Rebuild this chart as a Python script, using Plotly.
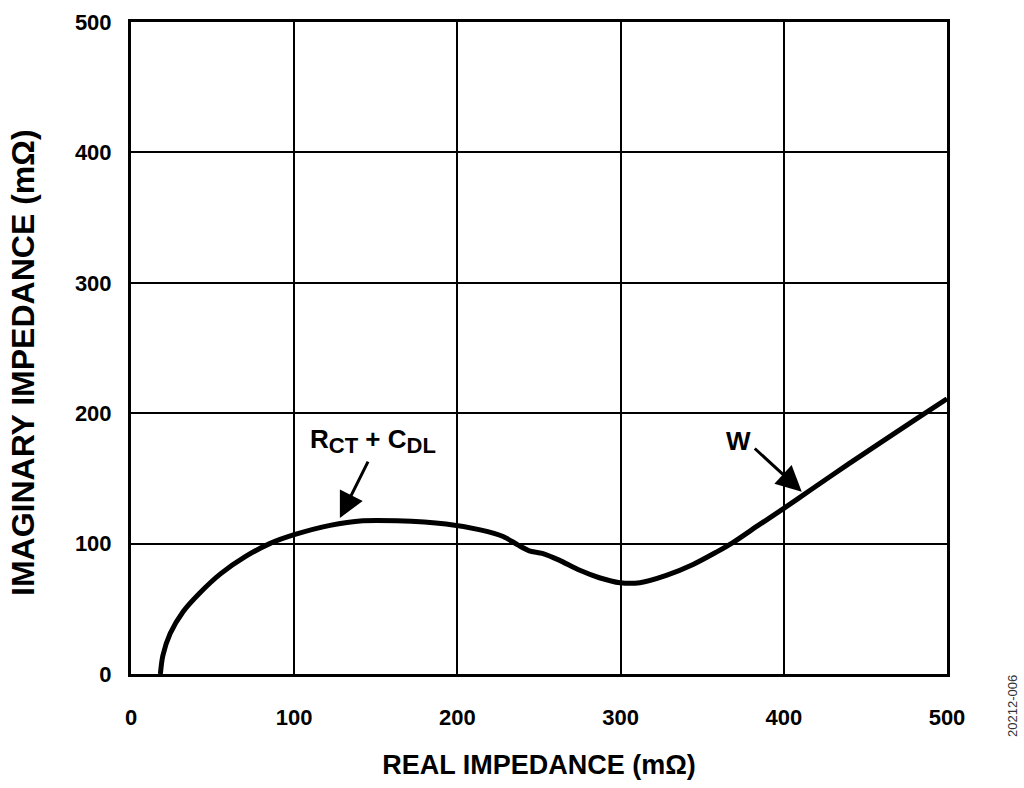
import plotly.graph_objects as go

# Nyquist curve (mOhm)
real_mohm = [18, 19.5, 24, 32, 42, 55, 70, 85, 100.5, 122, 142, 163, 193, 214,
             228, 237, 244, 252, 262, 275, 287, 299.6, 311.8, 328, 344.4, 358.7,
             368.8, 385, 400, 415.7, 440.2, 481, 500]
imag_mohm = [0, 14, 31, 48, 62, 77, 90, 100, 107, 114, 117.5, 117.5, 115, 110.5,
             105.5, 99, 94.5, 92.5, 87.5, 79.5, 73.8, 70, 70, 75.6, 84, 93.5,
             100.8, 114.5, 127, 140.5, 161.5, 195.5, 211]

x_ticks = [0, 100, 200, 300, 400, 500]
y_ticks = [0, 100, 200, 300, 400, 500]

FONT = "Arial, Liberation Sans, sans-serif"
W_PX, H_PX = 1024, 788
MARGIN = dict(l=131, r=77, t=22, b=114)
PLOT_W = W_PX - MARGIN["l"] - MARGIN["r"]
PLOT_H = H_PX - MARGIN["t"] - MARGIN["b"]

fig = go.Figure()
fig.add_trace(go.Scatter(x=real_mohm, y=imag_mohm, mode="lines",
                         line=dict(color="black", width=5, shape="spline", smoothing=0.8),
                         showlegend=False, hoverinfo="skip"))

sub = '<sub><span style="font-size:22px">{}</span></sub>'
# curve labels
fig.add_annotation(x=148, y=178.7, xref="x", yref="y", showarrow=False,
                   text="<b>R" + sub.format("CT") + " + C" + sub.format("DL") + "</b>",
                   font=dict(family=FONT, size=26, color="black"))
fig.add_annotation(x=372, y=178.7, xref="x", yref="y", showarrow=False,
                   text="<b>W</b>", font=dict(family=FONT, size=26, color="black"))
# arrows (tip at x/y, tail at ax/ay)
for tip, tail in [((128, 119.6), (145.7, 164)), ((411, 139.8), (381.3, 174))]:
    fig.add_annotation(x=tip[0], y=tip[1], ax=tail[0], ay=tail[1],
                       xref="x", yref="y", axref="x", ayref="y", text="",
                       showarrow=True, arrowhead=2, arrowsize=1.7, arrowwidth=3,
                       arrowcolor="black")

# y axis title placed as rotated text
fig.add_annotation(xref="x domain", yref="y domain",
                   x=(23 - 131) / PLOT_W, y=(674 - 363) / PLOT_H,
                   xanchor="center", yanchor="middle", showarrow=False, textangle=-90,
                   text="<b>IMAGINARY IMPEDANCE (mΩ)</b>",
                   font=dict(family=FONT, size=32, color="black"))
# figure id on the right edge
fig.add_annotation(xref="x domain", yref="y domain",
                   x=(1012 - 131) / PLOT_W, y=(674 - 706) / PLOT_H,
                   xanchor="center", yanchor="middle",
                   text="20212-006", showarrow=False, textangle=-90,
                   font=dict(family=FONT, size=13, color="#333333"))

axis_common = dict(showgrid=True, gridcolor="black", gridwidth=2,
                   showline=True, linecolor="black", linewidth=3, mirror=True,
                   zeroline=False, ticks="", automargin=False,
                   tickfont=dict(family=FONT, size=22, color="black", weight="bold"))

fig.update_xaxes(range=[0, 500], tickvals=x_ticks, ticklabelstandoff=22,
                 title=dict(text="<b>REAL IMPEDANCE (mΩ)</b>", standoff=26,
                            font=dict(family=FONT, size=27, color="black")),
                 **axis_common)
fig.update_yaxes(range=[0, 500], tickvals=y_ticks, ticklabelstandoff=12,
                 **axis_common)
fig.update_layout(width=W_PX, height=H_PX, margin=MARGIN,
                  plot_bgcolor="white", paper_bgcolor="white",
                  font=dict(family=FONT))

# drop the page's default 8px body margin so the figure fills the window
fig.write_html("out.html", config={"displayModeBar": False},
               post_script="document.body.style.margin='0';")
